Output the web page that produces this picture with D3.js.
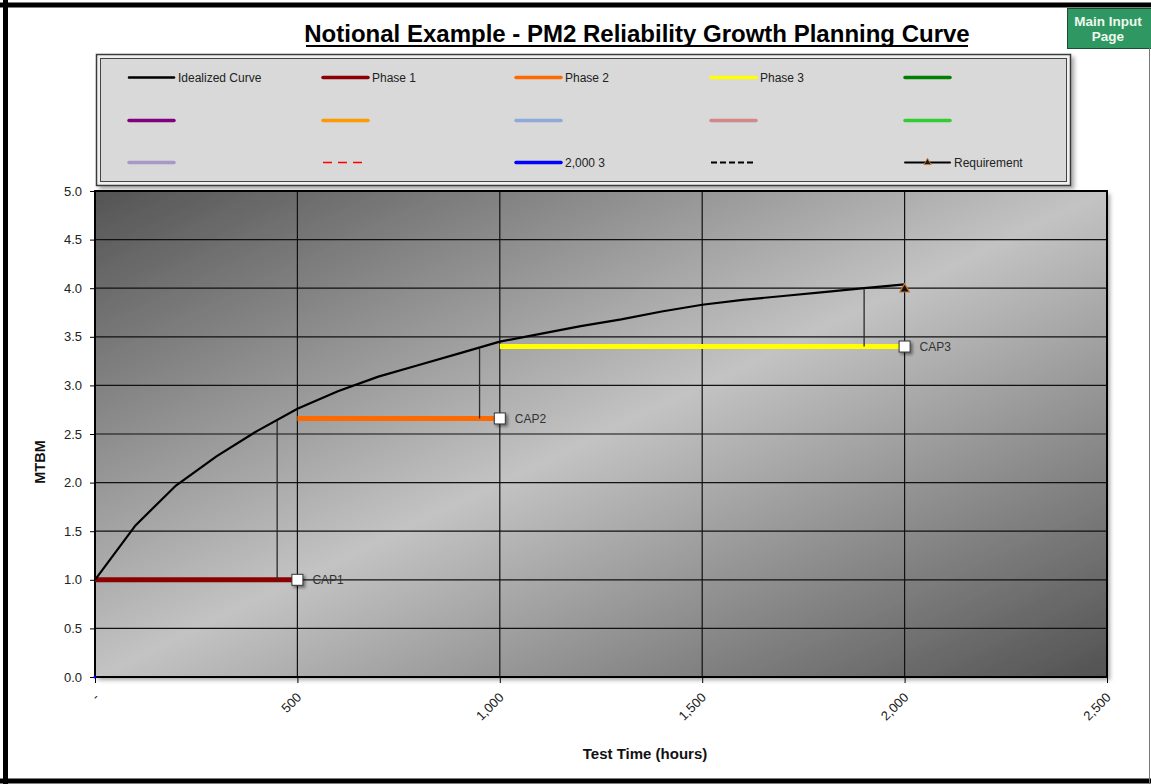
<!DOCTYPE html>
<html>
<head>
<meta charset="utf-8">
<title>PM2 Reliability Growth Planning Curve</title>
<script src="https://cdn.jsdelivr.net/npm/d3@7"></script>
<style>
    body { margin: 0; background: #fff; }
    svg { display: block; font-family: 'Liberation Sans', Arial, sans-serif; }
</style>
</head>
<body>
<svg id="chart" width="1151" height="784"></svg>
<script>
'use strict';

// Idealized curve (test hours, MTBM)
const curveHours = [0, 100, 200, 300, 400, 500, 600, 700, 800, 900, 1000,
    1100, 1200, 1300, 1400, 1500, 1600, 1700, 1800, 1900, 2000];
const curveMtbm = [1.00, 1.56, 1.97, 2.27, 2.53, 2.76, 2.94, 3.09, 3.21, 3.33, 3.45,
    3.53, 3.61, 3.68, 3.76, 3.83, 3.88, 3.92, 3.96, 4.00, 4.04];

// Test phases
const phaseNames = ['Phase 1', 'Phase 2', 'Phase 3'];
const phaseStart = [0, 500, 1000];
const phaseEnd = [500, 1000, 2000];
const phaseMtbm = [1.00, 2.66, 3.40];
const capLabels = ['CAP1', 'CAP2', 'CAP3'];

// Step lines from the curve down to each phase level
const stepHours = [450, 950, 1900];
const stepTop = [2.65, 3.38, 3.99];

// Requirement
const reqHours = [2000];
const reqMtbm = [4.0];

// Lone point of the "2,000 3" series
const blueHours = [0];
const blueMtbm = [0];

// Axes
const xTicks = [0, 500, 1000, 1500, 2000, 2500];
const xTickLabels = ['-', '500', '1,000', '1,500', '2,000', '2,500'];
const yTicks = [0, 0.5, 1, 1.5, 2, 2.5, 3, 3.5, 4, 4.5, 5];

// Legend entries, row by row
const legendLabels = [
    'Idealized Curve', 'Phase 1', 'Phase 2', 'Phase 3', '',
    '', '', '', '', '',
    '', '', '2,000 3', '', 'Requirement'
];

(function () {

    const svg = d3.select('#chart');

    // Config
    const plot = {'left': 95, 'top': 191, 'right': 1107, 'bottom': 677};
    const width = plot.right - plot.left;
    const height = plot.bottom - plot.top;

    const defs = svg.append('defs');

    // Plot background gradient
    const grad = defs.append('linearGradient')
        .attr('id', 'plotBg')
        .attr('x1', 0).attr('y1', 0)
        .attr('x2', 1).attr('y2', 1);
    grad.append('stop').attr('offset', '0%').attr('stop-color', '#545454');
    grad.append('stop').attr('offset', '50%').attr('stop-color', '#c3c3c3');
    grad.append('stop').attr('offset', '100%').attr('stop-color', '#525252');

    // Shadows
    defs.append('filter')
        .attr('id', 'shadow')
        .attr('x', '-5%').attr('y', '-5%')
        .attr('width', '110%').attr('height', '115%')
        .append('feDropShadow')
            .attr('dx', 3).attr('dy', 3)
            .attr('stdDeviation', 2)
            .attr('flood-color', '#000')
            .attr('flood-opacity', 0.35);

    defs.append('filter')
        .attr('id', 'markShadow')
        .attr('x', '-50%').attr('y', '-50%')
        .attr('width', '200%').attr('height', '200%')
        .append('feDropShadow')
            .attr('dx', 2).attr('dy', 2)
            .attr('stdDeviation', 1.5)
            .attr('flood-color', '#000')
            .attr('flood-opacity', 0.45);

    // Scales
    const scX = d3.scaleLinear()
        .domain([0, 2500])
        .range([plot.left, plot.right]);

    const scY = d3.scaleLinear()
        .domain([0, 5])
        .range([plot.bottom, plot.top]);

    // Title
    svg.append('text')
        .attr('x', 637)
        .attr('y', 42)
        .attr('text-anchor', 'middle')
        .style('font-size', '24px')
        .style('font-weight', 'bold')
        .style('fill', '#000')
        .text('Notional Example - PM2 Reliability Growth Planning Curve');

    svg.append('line')
        .attr('x1', 306).attr('x2', 968)
        .attr('y1', 46).attr('y2', 46)
        .style('stroke', '#000')
        .style('stroke-width', 2);

    // Main Input Page button
    svg.append('rect')
        .attr('x', 1067.5).attr('y', 8.5)
        .attr('width', 84).attr('height', 40)
        .style('fill', '#2f9862')
        .style('stroke', '#1d4d33')
        .style('stroke-width', 1);

    svg.append('text')
        .attr('x', 1108).attr('y', 26)
        .attr('text-anchor', 'middle')
        .style('font-size', '13.5px')
        .style('font-weight', 'bold')
        .style('fill', '#eef8ee')
        .text('Main Input');

    svg.append('text')
        .attr('x', 1108).attr('y', 41)
        .attr('text-anchor', 'middle')
        .style('font-size', '13.5px')
        .style('font-weight', 'bold')
        .style('fill', '#eef8ee')
        .text('Page');

    // Legend box
    svg.append('rect')
        .attr('x', 96.5).attr('y', 54.5)
        .attr('width', 974).attr('height', 131)
        .style('fill', '#f0f0f0')
        .style('stroke', '#3a3a3a')
        .style('stroke-width', 1.5)
        .attr('filter', 'url(#shadow)');

    svg.append('rect')
        .attr('x', 100.5).attr('y', 58.5)
        .attr('width', 966).attr('height', 123)
        .style('fill', '#d9d9d9')
        .style('stroke', '#444')
        .style('stroke-width', 1);

    const legendStyle = [
        {'c': '#000000', 'w': 2.5}, {'c': '#8b0000', 'w': 3.5}, {'c': '#ff6a00', 'w': 3.5},
        {'c': '#ffff00', 'w': 3.5}, {'c': '#008000', 'w': 3.5},
        {'c': '#800080', 'w': 3.5}, {'c': '#ff9900', 'w': 3.5}, {'c': '#8eaad8', 'w': 3.5},
        {'c': '#d08888', 'w': 3.5}, {'c': '#33cc33', 'w': 3.5},
        {'c': '#a898c8', 'w': 3.5}, {'c': '#ff0000', 'w': 1.5, 'dash': '9,6'},
        {'c': '#0000ff', 'w': 3.5}, {'c': '#000000', 'w': 2, 'dash': '6,3'},
        {'c': '#000000', 'w': 2, 'marker': true}
    ];
    const colX = [129, 323, 516, 711, 905];
    const rowY = [77.5, 120.5, 162.5];

    const legendItems = svg.selectAll('.legend-item')
        .data(legendLabels)
        .enter()
        .append('g')
            .attr('class', 'legend-item')
            .attr('transform', function (d, i) {
                return `translate(${colX[i % 5]}, ${rowY[Math.floor(i / 5)]})`;
            });

    legendItems.append('line')
        .attr('x1', 0).attr('x2', 45)
        .attr('y1', 0).attr('y2', 0)
        .style('stroke', function (d, i) { return legendStyle[i].c; })
        .style('stroke-width', function (d, i) { return legendStyle[i].w; })
        .style('stroke-dasharray', function (d, i) { return legendStyle[i].dash || null; })
        .style('stroke-linecap', function (d, i) { return legendStyle[i].dash ? 'butt' : 'round'; });

    legendItems.filter(function (d, i) { return legendStyle[i].marker; })
        .append('path')
            .attr('d', d3.symbol(d3.symbolTriangle).size(22))
            .attr('transform', 'translate(22.5, 0)')
            .style('fill', '#1a1a1a')
            .style('stroke', '#c8752e')
            .style('stroke-width', 1);

    legendItems.append('text')
        .attr('x', 49)
        .attr('y', 0)
        .attr('dy', '0.35em')
        .style('font-size', '12px')
        .style('fill', '#222')
        .text(function (d) { return d; });

    // Plot area
    svg.append('rect')
        .attr('x', plot.left).attr('y', plot.top)
        .attr('width', width).attr('height', height)
        .style('fill', 'url(#plotBg)')
        .attr('filter', 'url(#shadow)');

    const container = svg.append('g').attr('class', 'container');

    // Grid
    container.selectAll('.hgrid')
        .data(yTicks)
        .enter()
        .append('line')
            .attr('class', 'hgrid')
            .attr('x1', plot.left).attr('x2', plot.right)
            .attr('y1', function (d) { return scY(d); })
            .attr('y2', function (d) { return scY(d); })
            .style('stroke', '#111')
            .style('stroke-width', 1.2);

    container.selectAll('.vgrid')
        .data(xTicks)
        .enter()
        .append('line')
            .attr('class', 'vgrid')
            .attr('x1', function (d) { return scX(d); })
            .attr('x2', function (d) { return scX(d); })
            .attr('y1', plot.top).attr('y2', plot.bottom)
            .style('stroke', '#111')
            .style('stroke-width', 1.2);

    container.append('rect')
        .attr('x', plot.left).attr('y', plot.top)
        .attr('width', width).attr('height', height)
        .style('fill', 'none')
        .style('stroke', '#000')
        .style('stroke-width', 2);

    // Y axis
    const yAxis = container.append('g')
        .attr('class', 'y axis')
        .attr('transform', `translate(${plot.left}, 0)`)
        .call(d3.axisLeft(scY).tickValues(yTicks).tickFormat(d3.format('.1f')).tickSize(5).tickPadding(8));
    yAxis.select('.domain').remove();
    yAxis.selectAll('line').style('stroke', '#000');
    yAxis.selectAll('text')
        .style('font-family', "'Liberation Sans', Arial, sans-serif")
        .style('font-size', '13px')
        .style('fill', '#222');

    // X axis
    const xAxis = container.append('g')
        .attr('class', 'x axis')
        .attr('transform', `translate(0, ${plot.bottom})`)
        .call(d3.axisBottom(scX).tickValues(xTicks).tickFormat(function (d, i) { return xTickLabels[i]; }).tickSize(6));
    xAxis.select('.domain').remove();
    xAxis.selectAll('line').style('stroke', '#000');
    xAxis.selectAll('text')
        .attr('x', 0)
        .attr('y', 0)
        .attr('dy', '0.35em')
        .attr('text-anchor', 'end')
        .attr('transform', 'translate(1, 18) rotate(-45)')
        .style('font-family', "'Liberation Sans', Arial, sans-serif")
        .style('font-size', '13px')
        .style('fill', '#222');

    // Axis titles
    svg.append('text')
        .attr('x', 645)
        .attr('y', 759)
        .attr('text-anchor', 'middle')
        .style('font-size', '15px')
        .style('font-weight', 'bold')
        .style('fill', '#111')
        .text('Test Time (hours)');

    svg.append('text')
        .attr('transform', 'translate(45, 462) rotate(-90)')
        .attr('text-anchor', 'middle')
        .style('font-size', '14.5px')
        .style('font-weight', 'bold')
        .style('fill', '#111')
        .text('MTBM');

    // Phase lines
    container.selectAll('.phase')
        .data(phaseNames)
        .enter()
        .append('line')
            .attr('class', 'phase')
            .attr('x1', function (d, i) { return scX(phaseStart[i]); })
            .attr('x2', function (d, i) { return scX(phaseEnd[i]); })
            .attr('y1', function (d, i) { return scY(phaseMtbm[i]); })
            .attr('y2', function (d, i) { return scY(phaseMtbm[i]); })
            .style('stroke', function (d, i) { return legendStyle[i + 1].c; })
            .style('stroke-width', 5);

    // Step lines
    container.selectAll('.step')
        .data(stepHours)
        .enter()
        .append('line')
            .attr('class', 'step')
            .attr('x1', function (d) { return scX(d); })
            .attr('x2', function (d) { return scX(d); })
            .attr('y1', function (d, i) { return scY(stepTop[i]); })
            .attr('y2', function (d, i) { return scY(phaseMtbm[i]); })
            .style('stroke', '#2a2a2a')
            .style('stroke-width', 1.3);

    // Idealized curve
    const line = d3.line()
        .x(function (d) { return scX(d); })
        .y(function (d, i) { return scY(curveMtbm[i]); });

    container.append('path')
        .datum(curveHours)
        .attr('d', line)
        .style('fill', 'none')
        .style('stroke', '#000')
        .style('stroke-width', 2.2);

    // CAP markers
    container.selectAll('.cap')
        .data(capLabels)
        .enter()
        .append('rect')
            .attr('class', 'cap')
            .attr('x', function (d, i) { return scX(phaseEnd[i]) - 5.5; })
            .attr('y', function (d, i) { return scY(phaseMtbm[i]) - 5.5; })
            .attr('width', 11).attr('height', 11)
            .style('fill', '#fff')
            .style('stroke', '#333')
            .style('stroke-width', 1)
            .attr('filter', 'url(#markShadow)');

    container.selectAll('.cap-label')
        .data(capLabels)
        .enter()
        .append('text')
            .attr('class', 'cap-label')
            .attr('x', function (d, i) { return scX(phaseEnd[i]) + 15; })
            .attr('y', function (d, i) { return scY(phaseMtbm[i]); })
            .attr('dy', '0.35em')
            .style('font-size', '12px')
            .style('fill', '#333')
            .text(function (d) { return d; });

    // Requirement marker
    container.selectAll('.req')
        .data(reqHours)
        .enter()
        .append('path')
            .attr('class', 'req')
            .attr('d', d3.symbol(d3.symbolTriangle).size(40))
            .attr('transform', function (d, i) {
                return `translate(${scX(d)}, ${scY(reqMtbm[i]) + 1})`;
            })
            .style('fill', '#111')
            .style('stroke', '#c8752e')
            .style('stroke-width', 1.2);

    // "2,000 3" point
    container.selectAll('.blue')
        .data(blueHours)
        .enter()
        .append('circle')
            .attr('class', 'blue')
            .attr('cx', function (d) { return scX(d); })
            .attr('cy', function (d, i) { return scY(blueMtbm[i]); })
            .attr('r', 1.5)
            .style('fill', '#0000ff');

    // Outer frame
    svg.append('line')
        .attr('x1', 0).attr('x2', 1151).attr('y1', 5).attr('y2', 5)
        .style('stroke', '#000').style('stroke-width', 5);
    svg.append('line')
        .attr('x1', 5.5).attr('x2', 5.5).attr('y1', 0).attr('y2', 784)
        .style('stroke', '#000').style('stroke-width', 5);
    svg.append('line')
        .attr('x1', 0).attr('x2', 1151).attr('y1', 781).attr('y2', 781)
        .style('stroke', '#000').style('stroke-width', 5);
    svg.append('line')
        .attr('x1', 1149.5).attr('x2', 1149.5).attr('y1', 48).attr('y2', 784)
        .style('stroke', '#777').style('stroke-width', 1);

})();
</script>
</body>
</html>
